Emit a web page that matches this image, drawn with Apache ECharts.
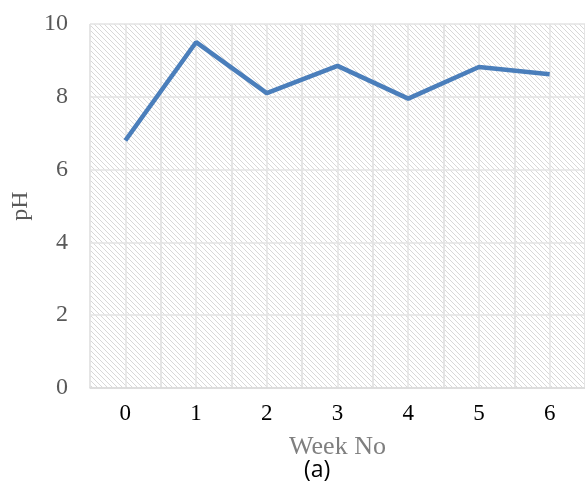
<!DOCTYPE html>
<html>
<head>
<meta charset="utf-8">
<script src="https://cdn.jsdelivr.net/npm/echarts@6/dist/echarts.min.js"></script>
<style>
  html, body { margin: 0; padding: 0; background: #ffffff; }
  #chart { width: 585px; height: 494px; }
</style>
</head>
<body>
<div id="chart"></div>
<script>
const weeks = ['0', '1', '2', '3', '4', '5', '6'];
const phValues = [6.8, 9.5, 8.1, 8.85, 7.95, 8.82, 8.62];
const yTicks = [0, 2, 4, 6, 8, 10];

// diagonal hatch fill for the plot area
const hatch = document.createElement('canvas');
hatch.width = 5;
hatch.height = 5;
const hctx = hatch.getContext('2d');
hctx.fillStyle = '#ffffff';
hctx.fillRect(0, 0, 5, 5);
hctx.strokeStyle = '#d8d8d8';
hctx.lineWidth = 1;
hctx.beginPath();
hctx.moveTo(-1, -1);
hctx.lineTo(6, 6);
hctx.moveTo(-1, 4);
hctx.lineTo(1, 6);
hctx.moveTo(4, -1);
hctx.lineTo(6, 1);
hctx.stroke();

const chart = echarts.init(document.getElementById('chart'));

const gridLine = { lineStyle: { color: '#e3e3e3', width: 1.5 } };

chart.setOption({
  animation: false,
  grid: {
    left: 90,
    top: 24,
    width: 497,
    height: 364,
    show: true,
    borderWidth: 0,
    backgroundColor: { image: hatch, repeat: 'repeat' },
  },
  xAxis: [
    {
      type: 'category',
      data: weeks,
      boundaryGap: true,
      name: 'Week No',
      nameLocation: 'middle',
      nameGap: 46,
      nameTextStyle: { fontFamily: 'Liberation Serif', fontSize: 26, color: '#7f7f7f' },
      axisLine: { lineStyle: { color: '#d9d9d9', width: 1.5 } },
      axisTick: { show: false },
      axisLabel: { fontFamily: 'Liberation Serif', fontSize: 23, color: '#000000', margin: 14 },
      splitLine: { show: true, ...gridLine },
    },
    {
      // half-band grid lines
      type: 'value',
      min: -0.5,
      max: 6.5,
      interval: 0.5,
      position: 'bottom',
      show: true,
      axisLine: { show: false },
      axisTick: { show: false },
      axisLabel: { show: false },
      splitLine: { show: true, ...gridLine },
    },
  ],
  yAxis: {
    type: 'value',
    min: yTicks[0],
    max: yTicks[yTicks.length - 1],
    interval: 2,
    name: 'pH',
    nameLocation: 'middle',
    nameGap: 55,
    nameRotate: 90,
    nameTextStyle: { fontFamily: 'Liberation Serif', fontSize: 24, color: '#595959' },
    axisLine: { show: false },
    axisTick: { show: false },
    axisLabel: { fontFamily: 'Liberation Serif', fontSize: 24, color: '#595959', margin: 22 },
    splitLine: { show: true, ...gridLine },
  },
  series: [
    {
      type: 'line',
      xAxisIndex: 0,
      data: phValues,
      symbol: 'none',
      lineStyle: { color: '#4a7ebb', width: 4.5 },
    },
  ],
  graphic: [
    {
      type: 'text',
      left: 304,
      top: 459,
      style: { text: '(a)', font: '23px "Open Sans"', fill: '#000000' },
    },
  ],
});
</script>
</body>
</html>
